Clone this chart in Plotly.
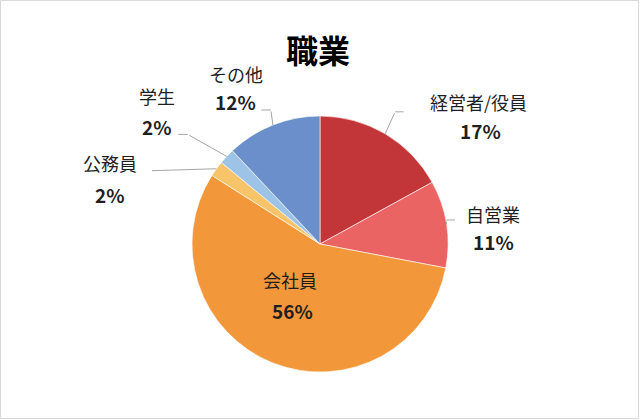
import math
import plotly.graph_objects as go

labels = ["経営者/役員", "自営業", "会社員", "公務員", "学生", "その他"]
values = [17, 11, 56, 2, 2, 12]
colors = ["#C2363A", "#EB6464", "#F2973A", "#F8C46A", "#9DC3E6", "#6A8FCB"]

W, H = 640, 420
CX, CY, R = 320, 244, 128  # pie centre / radius in pixels (layout)

# label layout (pixel offsets relative to the slice's mid-angle anchor point)
label_style = {
    "経営者/役員": dict(r=1.0, name=(93, -32), pct=(95, -3), lead=[(10, -22), (20, -22)]),
    "自営業": dict(r=1.0, name=(47, -10), pct=(47, 18), lead=[(0, -4), (10, -4)]),
    "会社員": dict(r=0.5, name=(-6, -24), pct=(-4, 7), lead=[]),
    "公務員": dict(r=1.0, name=(-106, -6), pct=(-106, 26), lead=[(-66, 2)]),
    "学生": dict(r=1.0, name=(-70, -60), pct=(-70, -30), lead=[(-39, -22), (-50, -22)]),
    "その他": dict(r=1.0, name=(-37, -51), pct=(-37, -23), lead=[(-2, -15), (-13, -15)]),
}

FONT = "Noto Sans CJK JP"
TXT = "#1F1F1F"
LINE = "#A6A6A6"

fig = go.Figure(go.Pie(
    labels=labels, values=values, sort=False, direction="clockwise", rotation=0,
    marker=dict(colors=colors, line=dict(color="white", width=0.6)),
    textinfo="none",
    domain=dict(x=[(CX - R) / W, (CX + R) / W], y=[1 - (CY + R) / H, 1 - (CY - R) / H]),
    showlegend=False, hoverinfo="skip",
))

total = sum(values)
annotations = []
cum = 0
for lab, v in zip(labels, values):
    mid = (cum + v / 2) / total * 2 * math.pi
    cum += v
    st = label_style[lab]
    px = CX + st["r"] * R * math.sin(mid)
    py = CY - st["r"] * R * math.cos(mid)
    xp, yp = px / W, 1 - py / H
    pct = round(v / total * 100)
    annotations.append(dict(x=xp, y=yp, xref="paper", yref="paper", showarrow=False,
                            xanchor="center", yanchor="middle",
                            text=lab, xshift=st["name"][0], yshift=-st["name"][1],
                            font=dict(family=FONT, size=18, color=TXT)))
    annotations.append(dict(x=xp, y=yp, xref="paper", yref="paper", showarrow=False,
                            xanchor="center", yanchor="middle",
                            text=f"<b>{pct}%</b>", xshift=st["pct"][0], yshift=-st["pct"][1],
                            font=dict(family=FONT, size=19, color=TXT)))
    prev = (0, 0)
    for pt in st["lead"]:
        annotations.append(dict(x=xp, y=yp, xref="paper", yref="paper", text="",
                                xanchor="center", yanchor="middle",
                                showarrow=True, arrowhead=0, arrowwidth=1, arrowcolor=LINE,
                                standoff=0, startstandoff=0,
                                xshift=prev[0], yshift=-prev[1],
                                ax=pt[0] - prev[0], ay=pt[1] - prev[1]))
        prev = pt

fig.update_layout(
    width=W, height=H, margin=dict(l=0, r=0, t=0, b=0),
    paper_bgcolor="white",
    title=dict(text="<b>職業</b>", x=0.497, xanchor="center", y=1 - 52 / H, yanchor="middle",
               font=dict(family=FONT, size=32, color="black")),
    annotations=annotations,
    shapes=[dict(type="rect", xref="paper", yref="paper",
                 x0=0.5 / W, y0=1.5 / H, x1=1 - 1.5 / W, y1=1 - 0.5 / H,
                 line=dict(color="#D9D9D9", width=1))],
)
fig.write_html("out.html", config={"displayModeBar": False},
               post_script="document.body.style.margin='0';")
